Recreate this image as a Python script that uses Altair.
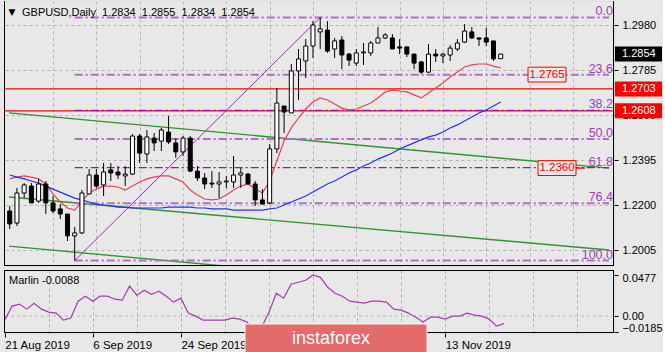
import altair as alt
import pandas as pd

# ---------------- data ----------------
opens = [1.2174, 1.2122, 1.2252, 1.2282, 1.2217, 1.2291, 1.2209, 1.2183, 1.2161, 1.2066,
         1.2079, 1.2248, 1.2330, 1.2287, 1.2352, 1.2343, 1.2326, 1.2334, 1.2499, 1.2421,
         1.2490, 1.2477, 1.2516, 1.2469, 1.2430, 1.2490, 1.2347, 1.2317, 1.2295, 1.2291,
         1.2300, 1.2300, 1.2330, 1.2334, 1.2291, 1.2222, 1.2209, 1.2443, 1.2629, 1.2599,
         1.2781, 1.2824, 1.2889, 1.2950, 1.2958, 1.2876, 1.2915, 1.2854, 1.2815, 1.2859,
         1.2859, 1.2902, 1.2924, 1.2924, 1.2885, 1.2885, 1.2854, 1.2820, 1.2776, 1.2854,
         1.2846, 1.2850, 1.2876, 1.2906, 1.2950, 1.2924, 1.2924, 1.2911, 1.2834]
highs = [1.2196, 1.2274, 1.2295, 1.2295, 1.2313, 1.2304, 1.2239, 1.2204, 1.2161, 1.2105,
         1.2265, 1.2356, 1.2356, 1.2382, 1.2382, 1.2369, 1.2369, 1.2508, 1.2508, 1.2525,
         1.2512, 1.2534, 1.2586, 1.2490, 1.2499, 1.2499, 1.2369, 1.2339, 1.2347, 1.2343,
         1.2326, 1.2412, 1.2360, 1.2339, 1.2304, 1.2269, 1.2464, 1.2707, 1.2629, 1.2811,
         1.2876, 1.2919, 1.2997, 1.3013, 1.2997, 1.2924, 1.2932, 1.2859, 1.2876, 1.2902,
         1.2911, 1.2971, 1.2945, 1.2941, 1.2919, 1.2885, 1.2854, 1.2824, 1.2898, 1.2876,
         1.2859, 1.2893, 1.2919, 1.2984, 1.2971, 1.2924, 1.2967, 1.2911, 1.2855]
lows = [1.2096, 1.2109, 1.2230, 1.2209, 1.2209, 1.2161, 1.2165, 1.2139, 1.2044, 1.1959,
        1.2074, 1.2248, 1.2274, 1.2239, 1.2304, 1.2313, 1.2282, 1.2330, 1.2382, 1.2382,
        1.2434, 1.2434, 1.2464, 1.2404, 1.2412, 1.2343, 1.2304, 1.2269, 1.2274, 1.2230,
        1.2274, 1.2274, 1.2274, 1.2291, 1.2196, 1.2204, 1.2204, 1.2425, 1.2512, 1.2599,
        1.2655, 1.2750, 1.2837, 1.2876, 1.2859, 1.2837, 1.2789, 1.2802, 1.2802, 1.2807,
        1.2846, 1.2902, 1.2919, 1.2876, 1.2854, 1.2841, 1.2789, 1.2768, 1.2772, 1.2820,
        1.2815, 1.2824, 1.2867, 1.2902, 1.2919, 1.2889, 1.2889, 1.2824, 1.2834]
closes = [1.2118, 1.2252, 1.2287, 1.2209, 1.2291, 1.2209, 1.2174, 1.2161, 1.2066, 1.2079,
          1.2252, 1.2330, 1.2282, 1.2343, 1.2339, 1.2330, 1.2334, 1.2499, 1.2425, 1.2495,
          1.2469, 1.2525, 1.2473, 1.2430, 1.2490, 1.2347, 1.2317, 1.2291, 1.2291, 1.2300,
          1.2304, 1.2330, 1.2339, 1.2291, 1.2222, 1.2204, 1.2443, 1.2642, 1.2603, 1.2781,
          1.2833, 1.2889, 1.2980, 1.2963, 1.2867, 1.2911, 1.2850, 1.2828, 1.2859, 1.2863,
          1.2902, 1.2924, 1.2937, 1.2876, 1.2880, 1.2854, 1.2815, 1.2776, 1.2854, 1.2846,
          1.2854, 1.2880, 1.2902, 1.2954, 1.2924, 1.2919, 1.2906, 1.2833, 1.2854]
ma_red = [1.2313, 1.2321, 1.2326, 1.2321, 1.2313, 1.2291, 1.2248, 1.2213, 1.2187, 1.2178,
          1.2217, 1.2252, 1.2269, 1.2282, 1.2282, 1.2278, 1.2265, 1.2282, 1.2300, 1.2313,
          1.2321, 1.2326, 1.2326, 1.2313, 1.2300, 1.2265, 1.2243, 1.2226, 1.2222, 1.2226,
          1.2243, 1.2265, 1.2282, 1.2291, 1.2269, 1.2252, 1.2304, 1.2391, 1.2477, 1.2534,
          1.2577, 1.2616, 1.2646, 1.2664, 1.2655, 1.2638, 1.2620, 1.2612, 1.2616, 1.2629,
          1.2642, 1.2664, 1.2690, 1.2698, 1.2694, 1.2690, 1.2677, 1.2664, 1.2685, 1.2707,
          1.2729, 1.2755, 1.2776, 1.2798, 1.2807, 1.2811, 1.2811, 1.2802, 1.2794]
ma_blue = [1.2330, 1.2321, 1.2313, 1.2304, 1.2295, 1.2282, 1.2269, 1.2256, 1.2243, 1.2230,
           1.2222, 1.2213, 1.2204, 1.2200, 1.2196, 1.2191, 1.2191, 1.2187, 1.2187, 1.2187,
           1.2187, 1.2187, 1.2191, 1.2191, 1.2191, 1.2191, 1.2187, 1.2187, 1.2183, 1.2183,
           1.2183, 1.2178, 1.2178, 1.2178, 1.2178, 1.2178, 1.2183, 1.2187, 1.2200, 1.2213,
           1.2226, 1.2239, 1.2256, 1.2274, 1.2291, 1.2304, 1.2321, 1.2339, 1.2352, 1.2369,
           1.2382, 1.2399, 1.2412, 1.2425, 1.2443, 1.2456, 1.2469, 1.2482, 1.2495, 1.2503,
           1.2516, 1.2534, 1.2547, 1.2564, 1.2581, 1.2599, 1.2612, 1.2629, 1.2646]
marlin = [-0.0046, 0.0116, 0.0139, 0.0081, 0.0150, 0.0081, 0.0046, 0.0035, -0.0046, -0.0023,
          0.0173, 0.0231, 0.0173, 0.0231, 0.0231, 0.0196, 0.0185, 0.0347, 0.0243, 0.0300,
          0.0254, 0.0289, 0.0231, 0.0162, 0.0208, 0.0035, 0.0000, -0.0046, -0.0046, -0.0046,
          -0.0046, -0.0023, -0.0035, -0.0069, -0.0185, -0.0127, 0.0046, 0.0266, 0.0208, 0.0370,
          0.0393, 0.0416, 0.0477, 0.0450, 0.0335, 0.0266, 0.0231, 0.0173, 0.0162, 0.0150,
          0.0173, 0.0173, 0.0162, 0.0081, 0.0069, 0.0035, -0.0012, -0.0069, -0.0012, -0.0012,
          -0.0035, 0.0000, 0.0000, 0.0035, 0.0012, 0.0000, -0.0035, -0.0116, -0.0088]

price_ticks = [1.2005, 1.2200, 1.2395, 1.2590, 1.2785, 1.2980]
marlin_ticks = [0.0477, 0.0, -0.0185]
date_idx = [0, 12, 24, 60]
date_lbl = ["21 Aug 2019", "6 Sep 2019", "24 Sep 2019", "13 Nov 2019"]
grid_idx = [6, 12, 18, 24, 30, 36, 42, 48, 54, 60, 66, 72, 78]

fib_names = ["0.0", "23.6", "38.2", "50.0", "61.8", "76.4", "100.0"]
fib_prices = [1.3013, 1.2764, 1.2610, 1.2486, 1.2362, 1.2208, 1.1959]
fib_dark = [False, False, True, False, True, False, False]
fib_start, fib_end = 9, 83.0

hline_prices = [1.2703, 1.2608]
diag_idx = [9, 43]
diag_prices = [1.1959, 1.3013]
green_names = ["top", "top", "mid", "mid", "low", "low"]
green_idx = [-0.1, 83.0, -0.1, 83.0, -0.1, 83.0]
green_prices = [1.2599, 1.2360, 1.2235, 1.2005, 1.2022, 1.1782]
tag_prices = [1.2854, 1.2703, 1.2608]
tag_text = ["1.2854", "1.2703", "1.2608"]
tag_colors = ["#000000", "#ff0000", "#ff0000"]

# ---------------- styling ----------------
BG = "#e8e8e8"
FONT = "Liberation Sans"
GRID = "#b4b4b4"
W = 610
H_MAIN = 265
H_IND = 63

n = len(opens)
bars = pd.DataFrame({"i": list(range(n)), "o": opens, "h": highs, "l": lows, "c": closes})
bars["up"] = bars["c"] >= bars["o"]
ma = pd.DataFrame({"i": list(range(n)), "red": ma_red, "blue": ma_blue, "m": marlin})
fib = pd.DataFrame({"name": fib_names, "p": fib_prices, "dark": fib_dark})
fib["i0"] = fib_start
fib["i1"] = fib_end

xs = alt.Scale(domain=[-0.1, 83.0], nice=False, zero=False)
ys = alt.Scale(domain=[1.19357, 1.30840], nice=False, zero=False)

x_axis_main = alt.Axis(values=grid_idx, labels=False, ticks=False, domain=False, grid=True,
                       gridColor=GRID, gridDash=[3, 3], title=None)
y_axis_main = alt.Axis(orient="right", values=price_ticks, format=".4f", grid=True,
                       gridColor=GRID, gridDash=[3, 3], domain=False, tickSize=4,
                       tickColor="black", labelFont=FONT, labelFontSize=11, labelColor="black",
                       labelPadding=4, labelOverlap=False, title=None, zindex=0)


def X(f):
    return alt.X(f, type="quantitative", scale=xs, axis=x_axis_main)


def Y(f):
    return alt.Y(f, type="quantitative", scale=ys, axis=y_axis_main)


one = pd.DataFrame({"a": [0]})

frame_main = [
    alt.Chart(one).mark_rule(color="black", strokeWidth=1).encode(x=alt.value(0.5)),
    alt.Chart(one).mark_rule(color="black", strokeWidth=1).encode(x=alt.value(W - 0.5)),
    alt.Chart(one).mark_rule(color="black", strokeWidth=1).encode(y=alt.value(H_MAIN - 0.5)),
]

hl_layer = alt.Chart(pd.DataFrame({"p": hline_prices})).mark_rule(
    color="#ff0000", strokeWidth=1.3).encode(y=Y("p"))

green_layer = alt.Chart(pd.DataFrame({"g": green_names, "i": green_idx, "p": green_prices})).mark_line(
    color="#2f962f", strokeWidth=1.4, clip=True).encode(x=X("i"), y=Y("p"), detail="g:N")

fib_light = alt.Chart(fib[~fib["dark"]]).mark_rule(
    color="#b46cc6", strokeWidth=2, strokeDash=[8, 3, 2, 3]).encode(x=X("i0"), x2="i1", y=Y("p"))
fib_darkl = alt.Chart(fib[fib["dark"]]).mark_rule(
    color="#8c1c9c", strokeWidth=1.3, strokeDash=[8, 3, 2, 3]).encode(x=X("i0"), x2="i1", y=Y("p"))
fib_text = alt.Chart(fib).mark_text(
    align="right", baseline="alphabetic", dy=-2, color="#a040b4", font=FONT, fontSize=12.5).encode(
    x=alt.value(W - 1), y=Y("p"), text="name:N")

diag = alt.Chart(pd.DataFrame({"i": diag_idx, "p": diag_prices})).mark_line(
    color="#9b30b5", strokeWidth=1).encode(x=X("i"), y=Y("p"))

red_line = alt.Chart(ma).mark_line(color="#e8405a", strokeWidth=1.2, clip=True).encode(x=X("i"), y=Y("red"))
blue_line = alt.Chart(ma).mark_line(color="#2233ee", strokeWidth=1.2, clip=True).encode(x=X("i"), y=Y("blue"))

wicks = alt.Chart(bars).mark_rule(color="black", strokeWidth=1, clip=True).encode(
    x=X("i"), y=Y("l"), y2="h")
bodies = alt.Chart(bars).mark_bar(size=4, stroke="black", strokeWidth=1, clip=True).encode(
    x=X("i"), y=Y("o"), y2="c",
    fill=alt.condition("datum.up", alt.value("white"), alt.value("black")))

BOX = "M-1,-0.39H1V0.39H-1Z"
TAG = "M-1,-0.32H1V0.32H-1Z"


def price_box(price, label, xc):
    d = pd.DataFrame({"p": [price], "t": [label]})
    b = alt.Chart(d).mark_point(shape=BOX, size=38 * 38, filled=True, fill=BG, stroke="#ff0000",
                                strokeWidth=1, opacity=1).encode(x=alt.value(xc), y=Y("p"))
    t = alt.Chart(d).mark_text(color="#ff0000", font=FONT, fontSize=11.5, align="center",
                               baseline="middle").encode(x=alt.value(xc), y=Y("p"), text="t:N")
    return [b, t]


seg = alt.Chart(pd.DataFrame({"p": [1.2360]})).mark_rule(color="#ff0000", strokeWidth=1.3).encode(
    x=alt.value(572), x2=alt.value(581), y=Y("p"))

tags = pd.DataFrame({"p": tag_prices, "t": tag_text, "col": tag_colors})
tag_box = alt.Chart(tags).mark_point(shape=TAG, size=47 * 47, filled=True, opacity=1).encode(
    x=alt.value(634.5), y=Y("p"), color=alt.Color("col:N", scale=None))
tag_txt = alt.Chart(tags).mark_text(align="left", baseline="middle", color="white", font=FONT,
                                    fontSize=11).encode(x=alt.value(618), y=Y("p"), text="t:N")

header = alt.Chart(one).mark_text(
    align="left", baseline="middle", font=FONT, fontSize=11, color="black",
    text="GBPUSD,Daily\u00a0\u00a01.2834\u00a0\u00a01.2855\u00a0\u00a01.2834\u00a0\u00a01.2854").encode(
    x=alt.value(18), y=alt.value(12))
tri = alt.Chart(one).mark_text(align="center", baseline="middle", font="DejaVu Sans", fontSize=9,
                               color="black", text="\u25bc").encode(x=alt.value(8), y=alt.value(11))

main = alt.layer(
    hl_layer, green_layer, fib_light, fib_darkl, diag, red_line, blue_line,
    wicks, bodies, fib_text, *price_box(1.2765, "1.2765", 543), seg,
    *price_box(1.2360, "1.2360", 553), tag_box, tag_txt, header, tri, *frame_main
).properties(width=W, height=H_MAIN)

# ---------------- indicator panel ----------------
ys2 = alt.Scale(domain=[-0.0196, 0.0535], nice=False, zero=False)
lab_expr = " : ".join(
    [f"datum.value == {v} ? '{t}'" for v, t in zip(date_idx, date_lbl)]) + " : ''"
tick_test = "indexof([" + ",".join(str(v) for v in date_idx) + "], datum.value) >= 0"

x_axis_ind = alt.Axis(values=sorted(set([0] + grid_idx + date_idx)), labelExpr=lab_expr, grid=True,
                      gridColor=GRID, gridDash=[3, 3],
                      gridOpacity={"condition": {"test": "datum.value > 0", "value": 1}, "value": 0},
                      tickOpacity={"condition": {"test": tick_test, "value": 1}, "value": 0},
                      tickSize=4, tickColor="black", labelAlign="left", labelFont=FONT,
                      labelFontSize=11.5, labelColor="black", labelPadding=2, labelOverlap=False,
                      labelFlush=False, domain=False, title=None, zindex=0)
y_axis_ind = alt.Axis(orient="right", values=marlin_ticks,
                      labelExpr="datum.value == 0 ? '0.00' : format(datum.value, '.4f')",
                      grid=False, domain=False, tickSize=4, tickColor="black", labelFont=FONT,
                      labelFontSize=11, labelColor="black", labelPadding=4, labelOverlap=False,
                      labelOffset={"condition": [{"test": "datum.value > 0.04", "value": 4},
                                                 {"test": "datum.value < -0.01", "value": -4}],
                                   "value": 0},
                      title=None, zindex=0)

XI = alt.X("i", type="quantitative", scale=xs, axis=x_axis_ind)
marlin_line = alt.Chart(ma).mark_line(color="#a63cb0", strokeWidth=1.2, clip=True).encode(
    x=XI, y=alt.Y("m", type="quantitative", scale=ys2, axis=y_axis_ind))
zero = alt.Chart(pd.DataFrame({"v": [0.0]})).mark_rule(color=GRID, strokeDash=[3, 3]).encode(
    y=alt.Y("v", type="quantitative", scale=ys2, axis=y_axis_ind))
mtext = alt.Chart(one).mark_text(align="left", baseline="middle", font=FONT, fontSize=11,
                                 color="black", text="Marlin -0.0088").encode(
    x=alt.value(5), y=alt.value(11))
wm_rect = alt.Chart(one).mark_rect(color="#e36b6b", stroke="#f4f4f4", strokeWidth=1).encode(
    x=alt.value(241), x2=alt.value(423), y=alt.value(54), y2=alt.value(86))
wm_text = alt.Chart(one).mark_text(align="left", baseline="middle", font=FONT, fontSize=18,
                                   color="white", text="instaforex").encode(
    x=alt.value(288), y=alt.value(69))
frame_ind = [
    alt.Chart(one).mark_rule(color="black", strokeWidth=1).encode(x=alt.value(0.5)),
    alt.Chart(one).mark_rule(color="black", strokeWidth=1).encode(x=alt.value(W - 0.5)),
    alt.Chart(one).mark_rule(color="black", strokeWidth=1).encode(y=alt.value(0.5)),
    alt.Chart(one).mark_rule(color="black", strokeWidth=1).encode(y=alt.value(H_IND - 0.5)),
]

ind = alt.layer(zero, marlin_line, mtext, *frame_ind, wm_rect, wm_text).properties(
    width=W, height=H_IND)

chart = alt.vconcat(main, ind, spacing=2).properties(
    padding={"left": 2, "top": 0, "right": 0, "bottom": 0}, background=BG
).configure_view(stroke=None).configure(font=FONT)

chart.save("out.html", embed_options={"renderer": "svg", "actions": False})
